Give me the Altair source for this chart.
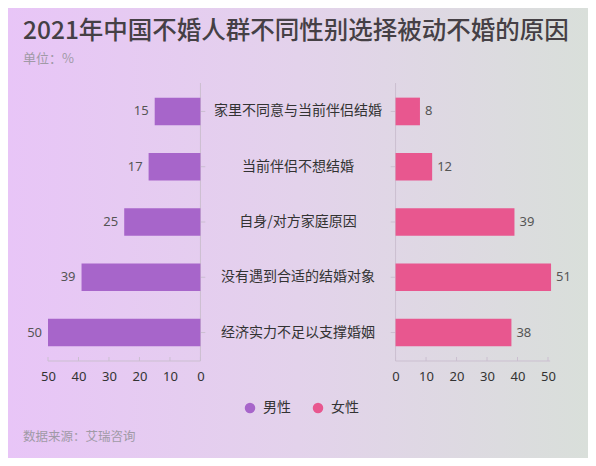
import altair as alt
import pandas as pd

# ---------------- data ----------------
categories = [
    "家里不同意与当前伴侣结婚",
    "当前伴侣不想结婚",
    "自身/对方家庭原因",
    "没有遇到合适的结婚对象",
    "经济实力不足以支撑婚姻",
]
male = [15, 17, 25, 39, 50]
female = [8, 12, 39, 51, 38]
genders = ["男性", "女性"]
tick_values = [0, 10, 20, 30, 40, 50]
title_text = "2021年中国不婚人群不同性别选择被动不婚的原因"
subtitle_text = "单位：%"
source_text = "数据来源：艾瑞咨询"

# ---------------- style / layout ----------------
FONT = "Noto Sans CJK SC"
NUMFONT = "Noto Sans"
colors = ["#a765ca", "#e8578f"]
GAP = 32          # half of the central label gap, in value units
MAXV = 50
W, H = 500, 278
PL, PR, PT, PB = 40, 40, 75, 97
AXIS_COLOR = "#cbbfd0"

rows = []
for c, m, f in zip(categories, male, female):
    rows.append({"category": c, "gender": genders[0], "value": m, "side": -1})
    rows.append({"category": c, "gender": genders[1], "value": f, "side": 1})
df = pd.DataFrame(rows)

axis_vals = [-(GAP + t) for t in tick_values] + [GAP + t for t in tick_values]

xscale = alt.Scale(domain=[-(GAP + MAXV), GAP + MAXV], nice=False, zero=False)
yscale = alt.Scale(domain=categories, paddingInner=0.5, paddingOuter=0.265)

xaxis = alt.Axis(
    values=axis_vals,
    labelExpr=f"'' + (abs(datum.value) - {GAP})",
    title=None, domain=False, ticks=False, grid=False,
    labelPadding=9, labelFontSize=13, labelColor="#333333",
    labelFont=NUMFONT, labelFlush=False, labelOverlap=False, zindex=1,
)


def xenc(field):
    return alt.X(field, scale=xscale, axis=xaxis)


def yenc():
    return alt.Y("category:N", sort=categories, scale=yscale, axis=None)


base = alt.Chart(df).transform_calculate(
    start=f"datum.side * {GAP}",
    end=f"datum.side * ({GAP} + datum.value)",
    t1=f"datum.side * {GAP}",
    t2=f"datum.side * ({GAP} - 1.6)",
)

# background gradient
bg = alt.Chart(pd.DataFrame({"a": [0]})).mark_rect(
    fill=alt.Gradient(
        gradient="linear",
        stops=[
            alt.GradientStop(color="#e8c5f7", offset=0),
            alt.GradientStop(color="#e3d2eb", offset=0.5),
            alt.GradientStop(color="#d9dfda", offset=1),
        ],
        x1=0, x2=1, y1=0, y2=0,
    )
).encode(
    x=alt.value(-PL), x2=alt.value(W + PR),
    y=alt.value(-PT), y2=alt.value(H + PB),
)

bars = base.mark_bar().encode(
    x=xenc("start:Q"),
    x2="end:Q",
    y=yenc(),
    color=alt.Color(
        "gender:N",
        scale=alt.Scale(domain=genders, range=colors),
        legend=alt.Legend(
            title=None, orient="none", legendX=195, legendY=318,
            direction="horizontal", symbolType="circle", symbolSize=110,
            symbolStrokeWidth=0, symbolOpacity=1,
            labelFontSize=14, labelColor="#333333", labelFont=FONT,
            columnPadding=20, labelOffset=6,
        ),
    ),
)

# vertical axis lines
vlines = alt.Chart(pd.DataFrame({"pos": [-GAP, GAP]})).mark_rule(
    color=AXIS_COLOR, strokeWidth=1
).encode(
    x=xenc("pos:Q"),
    y=alt.value(0), y2=alt.value(H),
)

# horizontal axis lines
hlines = alt.Chart(
    pd.DataFrame({"pos": [-(GAP + MAXV), GAP], "b": [-GAP, GAP + MAXV + 0.7]})
).mark_rule(color=AXIS_COLOR, strokeWidth=1).encode(
    x=xenc("pos:Q"), x2="b:Q",
    y=alt.value(H),
)

# x ticks pointing up
xticks = alt.Chart(pd.DataFrame({"pos": axis_vals})).mark_rule(
    color=AXIS_COLOR, strokeWidth=1
).encode(
    x=xenc("pos:Q"),
    y=alt.value(H - 4), y2=alt.value(H),
)

# category ticks on the vertical axes
cticks = base.mark_rule(color=AXIS_COLOR, strokeWidth=1).encode(
    x=xenc("t1:Q"), x2="t2:Q", y=yenc(),
)

# category labels in the middle
clabels = alt.Chart(pd.DataFrame({"category": categories})).transform_calculate(
    pos="0"
).mark_text(
    align="center", baseline="middle", fontSize=14, color="#333333", font=FONT
).encode(
    x=xenc("pos:Q"), y=yenc(), text="category:N",
)

# value labels
vleft = base.transform_filter("datum.side < 0").mark_text(
    align="right", baseline="middle", dx=-6, fontSize=13, color="#555555", font=NUMFONT
).encode(x=xenc("end:Q"), y=yenc(), text="value:Q")

vright = base.transform_filter("datum.side > 0").mark_text(
    align="left", baseline="middle", dx=5, fontSize=13, color="#555555", font=NUMFONT
).encode(x=xenc("end:Q"), y=yenc(), text="value:Q")

# title, subtitle, source note
title = alt.Chart(pd.DataFrame({"t": [title_text]})).mark_text(
    align="left", baseline="middle", fontSize=24.5, fontWeight=500,
    color="#454045", font=FONT
).encode(x=alt.value(15 - PL), y=alt.value(24 - PT), text="t:N")

subtitle = alt.Chart(pd.DataFrame({"t": [subtitle_text]})).mark_text(
    align="left", baseline="middle", fontSize=13,
    color="#a09aa6", font=FONT
).encode(x=alt.value(15 - PL), y=alt.value(51 - PT), text="t:N")

source = alt.Chart(pd.DataFrame({"t": [source_text]})).mark_text(
    align="left", baseline="middle", fontSize=12.5, color="#a09aa6", font=FONT
).encode(x=alt.value(15 - PL), y=alt.value(429 - PT), text="t:N")

chart = alt.layer(
    bg, vlines, hlines, xticks, cticks, bars, clabels, vleft, vright,
    title, subtitle, source
).properties(
    width=W, height=H,
    padding={"left": PL, "right": PR, "top": PT, "bottom": PB},
    autosize=alt.AutoSizeParams(type="none"),
).configure_view(stroke=None)

chart.save("out.html", embed_options={"renderer": "svg", "actions": False})
